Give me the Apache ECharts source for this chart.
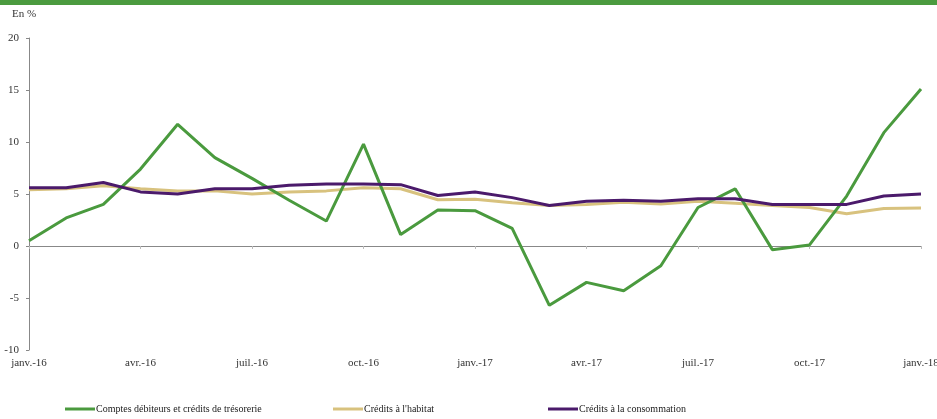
<!DOCTYPE html>
<html>
<head>
<meta charset="utf-8">
<script src="https://cdn.jsdelivr.net/npm/echarts@6/dist/echarts.min.js"></script>
<style>
  html, body { margin: 0; padding: 0; background: #fff; }
  #chart { width: 937px; height: 419px; }
</style>
</head>
<body>
<div id="chart"></div>
<script>
// mois de janv.-16 à janv.-18
var months = ['janv.-16','févr.-16','mars-16','avr.-16','mai-16','juin-16','juil.-16','août-16','sept.-16','oct.-16','nov.-16','déc.-16',
  'janv.-17','févr.-17','mars-17','avr.-17','mai-17','juin-17','juil.-17','août-17','sept.-17','oct.-17','nov.-17','déc.-17','janv.-18'];

var comptesDebiteurs = [0.5, 2.7, 4.0, 7.4, 11.7, 8.5, 6.5, 4.4, 2.4, 9.8, 1.1, 3.45, 3.4, 1.7, -5.7, -3.5, -4.3, -1.9, 3.7, 5.5, -0.35, 0.1, 4.8, 10.9, 15.1];
var creditsHabitat = [5.4, 5.5, 5.8, 5.5, 5.3, 5.3, 5.0, 5.2, 5.3, 5.6, 5.5, 4.45, 4.5, 4.15, 3.9, 4.0, 4.2, 4.05, 4.3, 4.1, 3.9, 3.7, 3.1, 3.6, 3.65];
var creditsConso = [5.6, 5.6, 6.1, 5.2, 5.0, 5.5, 5.5, 5.85, 5.95, 5.95, 5.9, 4.85, 5.2, 4.65, 3.9, 4.3, 4.4, 4.3, 4.55, 4.55, 4.0, 4.0, 4.0, 4.8, 5.0];

var seriesNames = ['Comptes débiteurs et crédits de trésorerie', 'Crédits à l\'habitat', 'Crédits à la consommation'];
var colors = ['#4a9a3e', '#d8c27e', '#4b1a6b'];
var legendLeft = [65, 333, 548];

var chart = echarts.init(document.getElementById('chart'));
var font = '"Liberation Serif", "DejaVu Serif", serif';

function line(name, data, i) {
  return {
    name: name,
    type: 'line',
    data: data,
    xAxisIndex: 0,
    symbol: 'none',
    lineStyle: { width: 3, color: colors[i] },
    itemStyle: { color: colors[i] },
    z: i === 0 ? 3 : (i === 1 ? 2 : 4)
  };
}

// une légende par série pour caler les positions
var legends = seriesNames.map(function (name, i) {
  return {
    top: 404,
    left: legendLeft[i],
    padding: 0,
    itemWidth: 30,
    itemHeight: 3,
    icon: 'rect',
    textStyle: { fontFamily: font, fontSize: 10, color: '#222', padding: [0, 0, 0, -4] },
    data: [name]
  };
});

chart.setOption({
  animation: false,
  textStyle: { fontFamily: font },
  graphic: [
    { type: 'rect', left: 0, top: 0, shape: { width: 937, height: 5 }, style: { fill: '#4b9b3f' } },
    { type: 'text', left: 12, top: 9, style: { text: 'En %', font: '11px ' + font, fill: '#333' } }
  ],
  grid: { left: 29, right: 16, top: 38, bottom: 69, containLabel: false, outerBoundsMode: 'none' },
  legend: legends,
  xAxis: [{
    type: 'category',
    data: months,
    boundaryGap: false,
    axisLine: { show: false, onZero: false },
    axisTick: { show: false },
    axisLabel: { interval: 2, fontFamily: font, fontSize: 11, color: '#333', margin: 8 },
    splitLine: { show: false }
  }, {
    type: 'category',
    data: months,
    boundaryGap: false,
    position: 'bottom',
    axisLine: { show: true, onZero: true, lineStyle: { color: '#888', width: 1 } },
    axisTick: { show: true, interval: 2, length: 3, lineStyle: { color: '#bbb' } },
    axisLabel: { show: false },
    splitLine: { show: false }
  }],
  yAxis: {
    type: 'value',
    min: -10,
    max: 20,
    interval: 5,
    axisLine: { show: true, lineStyle: { color: '#888', width: 1 } },
    axisTick: { show: true, length: 3, lineStyle: { color: '#888' } },
    axisLabel: { fontFamily: font, fontSize: 11, color: '#333', margin: 10 },
    splitLine: { show: false }
  },
  series: [
    line(seriesNames[0], comptesDebiteurs, 0),
    line(seriesNames[1], creditsHabitat, 1),
    line(seriesNames[2], creditsConso, 2)
  ]
});
</script>
</body>
</html>
